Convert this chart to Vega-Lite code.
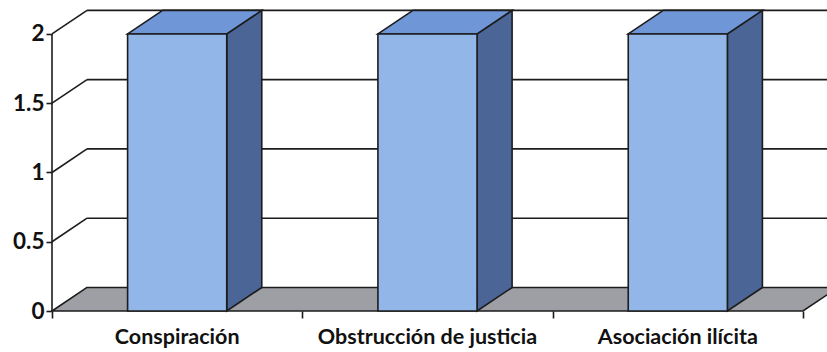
{
  "$schema": "https://vega.github.io/schema/vega-lite/v6.json",
  "width": 776,
  "height": 302,
  "autosize": {"type": "none"},
  "padding": {"left": 52, "top": 9, "right": 0, "bottom": 41},
  "background": "white",
  "config": {"view": {"stroke": null}},
  "datasets": {
    "barras": [
      {"categoria": "Conspiración", "valor": 2},
      {"categoria": "Obstrucción de justicia", "valor": 2},
      {"categoria": "Asociación ilícita", "valor": 2}
    ],
    "marcas": [{"v": 0}, {"v": 0.5}, {"v": 1}, {"v": 1.5}, {"v": 2}]
  },
  "layer": [
    {
      "data": {"name": "barras"},
      "transform": [
        {"window": [{"op": "row_number", "as": "idx"}]},
        {"calculate": "datum.idx - 0.5 - 0.198", "as": "x1"},
        {"calculate": "datum.idx - 0.5 + 0.198", "as": "x2"}
      ],
      "mark": {"type": "rect", "fill": "#93b6e8", "opacity": 0},
      "encoding": {
        "x": {
          "field": "x1", "type": "quantitative", "title": null,
          "scale": {"domain": [0, 3.1], "nice": false, "zero": false},
          "axis": {"values": [0, 1, 2, 3], "labels": false, "domain": false, "grid": false, "ticks": true, "tickSize": 7, "tickColor": "#1c1c1c", "tickWidth": 1.6, "title": null}
        },
        "x2": {"field": "x2"},
        "y": {
          "field": "valor", "type": "quantitative", "title": null,
          "scale": {"domain": [0, 2.18], "nice": false, "zero": false},
          "axis": {"values": [0, 0.5, 1, 1.5, 2], "format": "~g", "domain": false, "grid": false, "tickSize": 6, "tickColor": "#1c1c1c", "tickWidth": 1.6, "labelFont": "Lato", "labelFontSize": 22.5, "labelFontWeight": "bold", "labelColor": "#111111", "labelPadding": 2, "title": null}
        },
        "y2": {"datum": 0}
      }
    },
    {
      "data": {"name": "marcas"},
      "transform": [{"filter": "datum.v > 0"}, {"calculate": "datum.v + 0.17", "as": "vb"}],
      "mark": {"type": "rule", "stroke": "#1c1c1c", "strokeWidth": 1.6},
      "encoding": {
        "x": {"datum": 0.14, "type": "quantitative", "title": null, "scale": {"domain": [0, 3.1], "nice": false, "zero": false}},
        "x2": {"datum": 3.1},
        "y": {"field": "vb", "type": "quantitative", "title": null, "scale": {"domain": [0, 2.18], "nice": false, "zero": false}}
      }
    },
    {
      "data": {"name": "marcas"},
      "transform": [{"filter": "datum.v > 0"}, {"calculate": "datum.v + 0.17", "as": "vb"}],
      "mark": {"type": "rule", "stroke": "#1c1c1c", "strokeWidth": 1.6},
      "encoding": {
        "x": {"datum": 0, "type": "quantitative", "title": null, "scale": {"domain": [0, 3.1], "nice": false, "zero": false}},
        "x2": {"datum": 0.14},
        "y": {"field": "v", "type": "quantitative", "title": null, "scale": {"domain": [0, 2.18], "nice": false, "zero": false}},
        "y2": {"field": "vb"}
      }
    },
    {
      "data": {"name": "marcas"},
      "transform": [
        {"filter": "datum.v == 0"},
        {"calculate": "[0, 1]", "as": "d"},
        {"flatten": ["d"]},
        {"calculate": "0.14 * datum.d", "as": "xa"},
        {"calculate": "3 + 0.14 * datum.d", "as": "xb"},
        {"calculate": "0.17 * datum.d", "as": "yf"}
      ],
      "mark": {"type": "area", "orient": "horizontal", "fill": "#9e9ea5", "stroke": "#1c1c1c", "strokeWidth": 1.6},
      "encoding": {
        "y": {"field": "yf", "type": "quantitative", "title": null, "scale": {"domain": [0, 2.18], "nice": false, "zero": false}},
        "x": {"field": "xa", "type": "quantitative", "title": null, "scale": {"domain": [0, 3.1], "nice": false, "zero": false}},
        "x2": {"field": "xb"}
      }
    },
    {
      "data": {"name": "marcas"},
      "transform": [{"filter": "datum.v == 2"}],
      "mark": {"type": "rule", "stroke": "#1c1c1c", "strokeWidth": 1.6},
      "encoding": {
        "x": {"datum": 0, "type": "quantitative", "title": null, "scale": {"domain": [0, 3.1], "nice": false, "zero": false}},
        "y": {"field": "v", "type": "quantitative", "title": null, "scale": {"domain": [0, 2.18], "nice": false, "zero": false}},
        "y2": {"datum": 0}
      }
    },
    {
      "data": {"name": "barras"},
      "transform": [
        {"window": [{"op": "row_number", "as": "idx"}]},
        {"calculate": "datum.idx - 0.5", "as": "c"},
        {"calculate": "[0, 1]", "as": "d"},
        {"flatten": ["d"]},
        {"calculate": "datum.c + 0.198 + 0.14 * datum.d", "as": "xs"},
        {"calculate": "datum.valor + 0.17 * datum.d", "as": "ys"},
        {"calculate": "0.17 * datum.d", "as": "ys2"}
      ],
      "mark": {"type": "area", "orient": "vertical", "fill": "#4c6597", "stroke": "#1c1c1c", "strokeWidth": 1.6},
      "encoding": {
        "x": {"field": "xs", "type": "quantitative", "title": null, "scale": {"domain": [0, 3.1], "nice": false, "zero": false}},
        "y": {"field": "ys", "type": "quantitative", "title": null, "scale": {"domain": [0, 2.18], "nice": false, "zero": false}},
        "y2": {"field": "ys2"},
        "detail": {"field": "categoria"}
      }
    },
    {
      "data": {"name": "barras"},
      "transform": [
        {"window": [{"op": "row_number", "as": "idx"}]},
        {"calculate": "datum.idx - 0.5", "as": "c"},
        {"calculate": "[0, 1]", "as": "d"},
        {"flatten": ["d"]},
        {"calculate": "datum.c - 0.198 + 0.14 * datum.d", "as": "xt"},
        {"calculate": "datum.c + 0.198 + 0.14 * datum.d", "as": "xt2"},
        {"calculate": "datum.valor + 0.17 * datum.d", "as": "yt"}
      ],
      "mark": {"type": "area", "orient": "horizontal", "fill": "#6f96d6", "stroke": "#1c1c1c", "strokeWidth": 1.6},
      "encoding": {
        "y": {"field": "yt", "type": "quantitative", "title": null, "scale": {"domain": [0, 2.18], "nice": false, "zero": false}},
        "x": {"field": "xt", "type": "quantitative", "title": null, "scale": {"domain": [0, 3.1], "nice": false, "zero": false}},
        "x2": {"field": "xt2"},
        "detail": {"field": "categoria"}
      }
    },
    {
      "data": {"name": "barras"},
      "transform": [
        {"window": [{"op": "row_number", "as": "idx"}]},
        {"calculate": "datum.idx - 0.5 - 0.198", "as": "x1"},
        {"calculate": "datum.idx - 0.5 + 0.198", "as": "x2"}
      ],
      "mark": {"type": "rect", "fill": "#93b6e8", "stroke": "#1c1c1c", "strokeWidth": 1.6},
      "encoding": {
        "x": {"field": "x1", "type": "quantitative", "title": null, "scale": {"domain": [0, 3.1], "nice": false, "zero": false}},
        "x2": {"field": "x2"},
        "y": {"field": "valor", "type": "quantitative", "title": null, "scale": {"domain": [0, 2.18], "nice": false, "zero": false}},
        "y2": {"datum": 0}
      }
    },
    {
      "data": {"name": "barras"},
      "transform": [
        {"window": [{"op": "row_number", "as": "idx"}]},
        {"calculate": "datum.idx - 0.5", "as": "c"}
      ],
      "mark": {"type": "text", "font": "Lato", "fontSize": 21.5, "fontWeight": "bold", "color": "#111111", "baseline": "middle", "align": "center", "dy": 27},
      "encoding": {
        "x": {"field": "c", "type": "quantitative", "title": null, "scale": {"domain": [0, 3.1], "nice": false, "zero": false}},
        "y": {"datum": 0, "type": "quantitative", "title": null, "scale": {"domain": [0, 2.18], "nice": false, "zero": false}},
        "text": {"field": "categoria"}
      }
    }
  ]
}
